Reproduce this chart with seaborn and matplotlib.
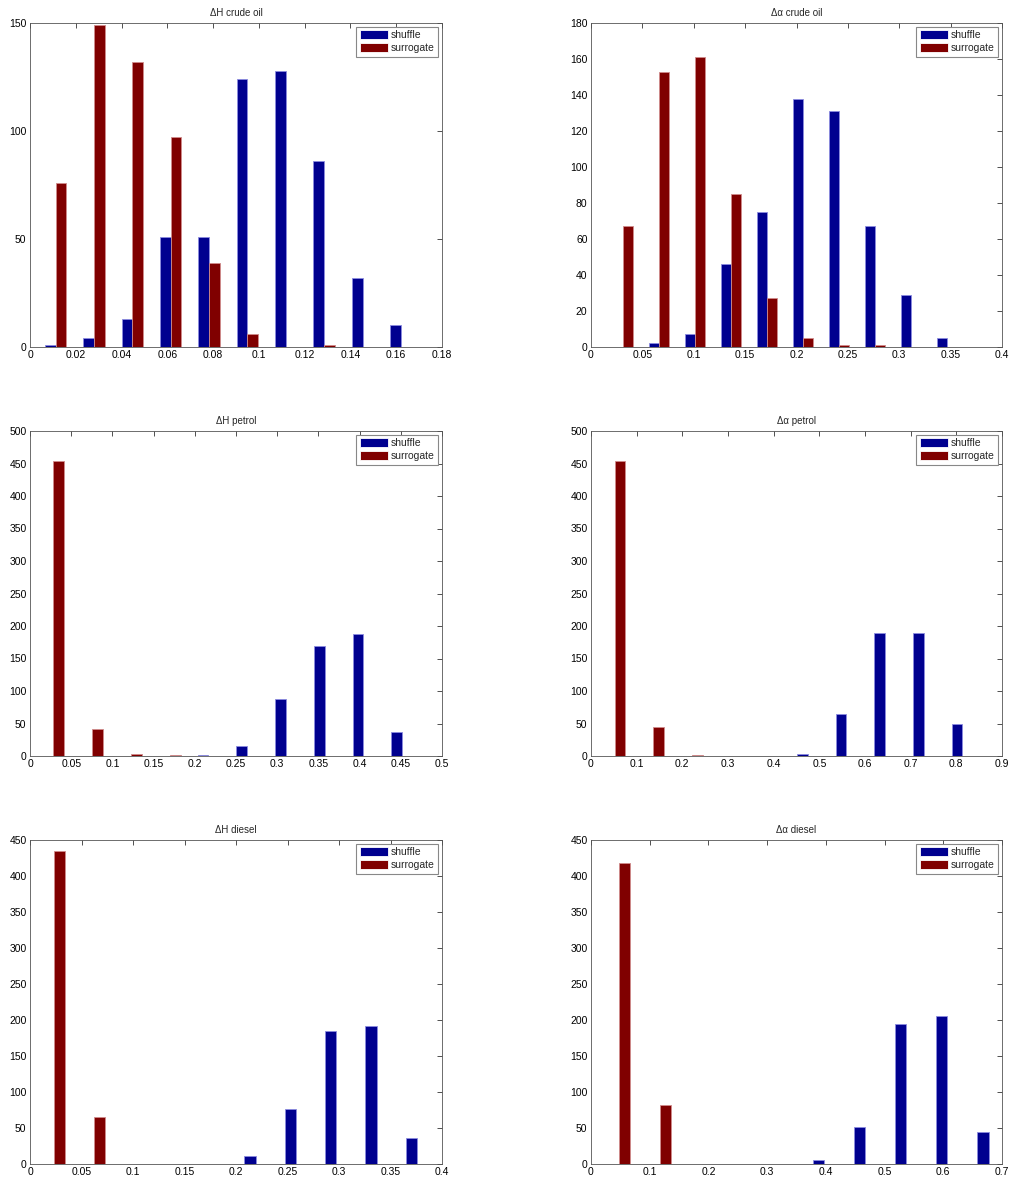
import numpy as np
import pandas as pd
import matplotlib
matplotlib.use("Agg")
import matplotlib.pyplot as plt
from matplotlib.ticker import FuncFormatter
import seaborn as sns

# ---------------- data ----------------
series_names = ["shuffle", "surrogate"]
titles = ["\u0394H crude oil", "\u0394\u03b1 crude oil",
          "\u0394H petrol", "\u0394\u03b1 petrol",
          "\u0394H diesel", "\u0394\u03b1 diesel"]

centers_h_crude = [0.0112, 0.0280, 0.0447, 0.0615, 0.0782, 0.0950, 0.1118, 0.1285, 0.1453, 0.1620]
shuffle_h_crude = [1, 4, 13, 51, 51, 124, 128, 86, 32, 10]
surrogate_h_crude = [76, 149, 132, 97, 39, 6, 0, 1, 0, 0]

centers_a_crude = [0.0314, 0.0664, 0.1014, 0.1364, 0.1714, 0.2064, 0.2414, 0.2764, 0.3114, 0.3464]
shuffle_a_crude = [0, 2, 7, 46, 75, 138, 131, 67, 29, 5]
surrogate_a_crude = [67, 153, 161, 85, 27, 5, 1, 1, 0, 0]

centers_h_petrol = [0.0283, 0.0754, 0.1224, 0.1695, 0.2165, 0.2636, 0.3106, 0.3577, 0.4047, 0.4518]
shuffle_h_petrol = [0, 0, 0, 0, 1, 16, 88, 170, 188, 37]
surrogate_h_petrol = [454, 42, 3, 1, 0, 0, 0, 0, 0, 0]

centers_a_petrol = [0.0518, 0.1364, 0.2210, 0.3056, 0.3902, 0.4748, 0.5594, 0.6440, 0.7286, 0.8132]
shuffle_a_petrol = [0, 0, 0, 0, 0, 3, 65, 189, 190, 50]
surrogate_a_petrol = [454, 44, 2, 0, 0, 0, 0, 0, 0, 0]

centers_h_diesel = [0.0230, 0.0622, 0.1014, 0.1406, 0.1798, 0.2190, 0.2582, 0.2974, 0.3366, 0.3758]
shuffle_h_diesel = [0, 0, 0, 0, 0, 11, 77, 185, 191, 36]
surrogate_h_diesel = [435, 65, 0, 0, 0, 0, 0, 0, 0, 0]

centers_a_diesel = [0.0471, 0.1171, 0.1871, 0.2571, 0.3271, 0.3971, 0.4671, 0.5371, 0.6071, 0.6771]
shuffle_a_diesel = [0, 0, 0, 0, 0, 5, 51, 195, 205, 44]
surrogate_a_diesel = [418, 82, 0, 0, 0, 0, 0, 0, 0, 0]

x_limits = [0.18, 0.4, 0.5, 0.9, 0.4, 0.7]
x_steps = [0.02, 0.05, 0.05, 0.1, 0.05, 0.1]
y_limits = [150, 180, 500, 500, 450, 450]
y_steps = [50, 20, 50, 50, 50, 50]

panels = [
    (centers_h_crude, shuffle_h_crude, surrogate_h_crude),
    (centers_a_crude, shuffle_a_crude, surrogate_a_crude),
    (centers_h_petrol, shuffle_h_petrol, surrogate_h_petrol),
    (centers_a_petrol, shuffle_a_petrol, surrogate_a_petrol),
    (centers_h_diesel, shuffle_h_diesel, surrogate_h_diesel),
    (centers_a_diesel, shuffle_a_diesel, surrogate_a_diesel),
]

# ---------------- style ----------------
sns.set_style("white")
plt.rcParams["font.family"] = ["Liberation Sans", "DejaVu Sans"]
plt.rcParams["font.size"] = 7

colors = {"shuffle": "#00008f", "surrogate": "#800000"}
edge_colors = ["#8c8ce0", "#d08c8c"]

fig = plt.figure(figsize=(10.13, 11.8), dpi=100)
W, H = 1013.0, 1180.0
col_lefts = [30, 591]
col_widths = [412, 411]
row_tops = [23, 431, 840]
row_heights = [324, 325, 324]

for i, (centers, shuf, surr) in enumerate(panels):
    r, c = divmod(i, 2)
    left = col_lefts[c] / W
    bottom = 1 - (row_tops[r] + row_heights[r]) / H
    ax = fig.add_axes([left, bottom, col_widths[c] / W, row_heights[r] / H])

    df = pd.DataFrame({
        "x": list(centers) * 2,
        "count": list(shuf) + list(surr),
        "series": ["shuffle"] * len(shuf) + ["surrogate"] * len(surr),
    })
    sns.barplot(data=df, x="x", y="count", hue="series", hue_order=series_names,
                palette=colors, native_scale=True, width=0.56, dodge=True,
                errorbar=None, ax=ax, linewidth=0.6, saturation=1)
    for cont, ec in zip(ax.containers, edge_colors):
        for p in cont:
            p.set_edgecolor(ec)

    ax.set_xlim(0, x_limits[i])
    ax.set_ylim(0, y_limits[i])
    ax.set_xticks(np.round(np.arange(0, x_limits[i] + 1e-9, x_steps[i]), 4))
    ax.set_yticks(np.arange(0, y_limits[i] + 1, y_steps[i]))
    ax.xaxis.set_major_formatter(FuncFormatter(lambda v, p: "%g" % round(v, 4)))
    ax.yaxis.set_major_formatter(FuncFormatter(lambda v, p: "%g" % v))
    ax.tick_params(direction="in", length=3.5, width=0.6, top=True, right=True,
                   labelsize=7.5, colors="#333333", labelcolor="black", pad=2.5)
    for s in ax.spines.values():
        s.set_linewidth(0.6)
        s.set_color("#555555")
        s.set_visible(True)
    ax.set_xlabel("")
    ax.set_ylabel("")
    ax.set_title(titles[i], fontsize=7, pad=5)

    handles, labels = ax.get_legend_handles_labels()
    leg = ax.legend(handles, series_names, loc="upper right", fontsize=7.5,
                    frameon=True, fancybox=False, framealpha=1,
                    edgecolor="#888888", handlelength=2.7, handleheight=0.9,
                    handletextpad=0.3, borderpad=0.35, labelspacing=0.25,
                    borderaxespad=0.35)
    leg.get_frame().set_linewidth(0.8)

fig.savefig("out.png", dpi=100)
